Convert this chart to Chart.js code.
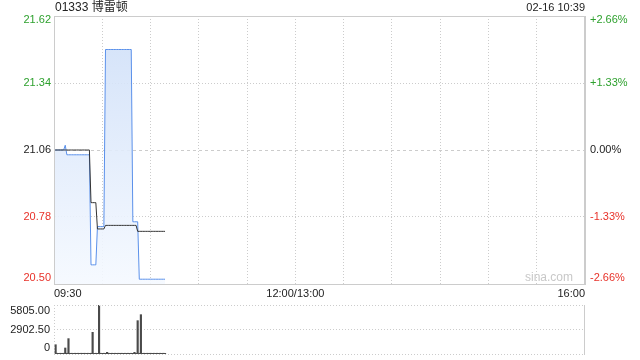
<!DOCTYPE html>
<html>
<head>
<meta charset="utf-8">
<script src="https://cdn.jsdelivr.net/npm/chart.js@4.4.1/dist/chart.umd.min.js"></script>
<style>
  body { margin: 0; background: #fff; }
  #wrap { position: relative; width: 640px; height: 360px; }
  canvas { position: absolute; left: 0; }
</style>
</head>
<body>
<div id="wrap">
  <canvas id="main" width="640" height="300" style="top:0"></canvas>
  <canvas id="vol" width="640" height="60" style="top:300px"></canvas>
</div>
<script>
const stockName = '01333 博雷顿';
const stamp = '02-16 10:39';
const prevClose = 21.06;
const priceTicks = [20.50, 20.78, 21.06, 21.34, 21.62];
const pctTicks = ['-2.66%', '-1.33%', '0.00%', '+1.33%', '+2.66%'];
const timeTicks = { 0: '09:30', 150: '12:00/13:00', 330: '16:00' };
const volTicks = [0, 2902.5, 5805];
const volLabels = ['0', '2902.50', '5805.00'];

// one value per minute from 09:30 to 10:39
const price = [
  21.06, 21.06, 21.06, 21.06, 21.06, 21.06, 21.06, 21.08, 21.04, 21.04,
  21.04, 21.04, 21.04, 21.04, 21.04, 21.04, 21.04, 21.04, 21.04, 21.04,
  21.04, 21.04, 21.04, 20.58, 20.58, 20.58, 20.58, 20.74, 20.74, 20.74,
  20.74, 20.74, 21.48, 21.48, 21.48, 21.48, 21.48, 21.48, 21.48, 21.48,
  21.48, 21.48, 21.48, 21.48, 21.48, 21.48, 21.48, 21.48, 21.48, 20.76,
  20.76, 20.76, 20.76, 20.52, 20.52, 20.52, 20.52, 20.52, 20.52, 20.52,
  20.52, 20.52, 20.52, 20.52, 20.52, 20.52, 20.52, 20.52, 20.52, 20.52
];
const avgPrice = [
  21.06, 21.06, 21.06, 21.06, 21.06, 21.06, 21.06, 21.06, 21.06, 21.06,
  21.06, 21.06, 21.06, 21.06, 21.06, 21.06, 21.06, 21.06, 21.06, 21.06,
  21.06, 21.06, 21.06, 20.84, 20.84, 20.84, 20.84, 20.73, 20.73, 20.73,
  20.73, 20.73, 20.745, 20.745, 20.745, 20.745, 20.745, 20.745, 20.745, 20.745,
  20.745, 20.745, 20.745, 20.745, 20.745, 20.745, 20.745, 20.745, 20.745, 20.745,
  20.745, 20.745, 20.72, 20.72, 20.72, 20.72, 20.72, 20.72, 20.72, 20.72,
  20.72, 20.72, 20.72, 20.72, 20.72, 20.72, 20.72, 20.72, 20.72, 20.72
];
const volume = [
  90, 1100, 90, 80, 90, 80, 90, 710, 90, 1820,
  80, 90, 80, 90, 80, 90, 80, 90, 80, 90,
  80, 90, 80, 90, 2570, 80, 90, 80, 5805, 90,
  80, 90, 80, 200, 90, 80, 90, 80, 90, 80,
  90, 80, 90, 80, 90, 80, 90, 80, 90, 80,
  200, 90, 3950, 90, 4660, 80, 90, 80, 90, 80,
  90, 80, 90, 80, 90, 80, 90, 80, 90, 80
];

const FONT = '"Liberation Sans", Arial, "Noto Sans CJK SC", sans-serif';
const GREEN = '#2ea12e';
const RED = '#e8322a';
const GRID = '#cccccc';
const CLEAR = 'rgba(0,0,0,0)';

function priceColor(v) {
  if (Math.abs(v - prevClose) < 0.001) return '#222';
  return v > prevClose ? GREEN : RED;
}

// sina puts the top label just under the edge and the bottom one just above it
function insetTicks(vals, lowFrac, highFrac) {
  const span = vals[vals.length - 1] - vals[0];
  return vals.map((v, i) => ({
    value: i === 0 ? v + span * lowFrac : i === vals.length - 1 ? v - span * highFrac : v
  }));
}
function noPad(s) { s.paddingTop = 0; s.paddingBottom = 0; }
const edgeGrid = ctx => (ctx.index === 0 || ctx.index === 4 ? CLEAR : GRID);

const mainFrame = {
  id: 'mainFrame',
  afterDraw(chart) {
    const a = chart.chartArea, c = chart.ctx;
    c.save();
    c.strokeStyle = GRID;
    c.lineWidth = 1;
    c.strokeRect(a.left + 0.5, a.top + 0.5, a.right - a.left - 1, a.bottom - a.top);
    c.font = '12px ' + FONT;
    c.fillStyle = '#222';
    c.textBaseline = 'middle';
    c.textAlign = 'left';
    c.fillText(stockName, 55, 8);
    c.font = '11px ' + FONT;
    c.textAlign = 'right';
    c.fillText(stamp, a.right, 8);
    c.fillStyle = '#c8c8c8';
    c.font = '12px ' + FONT;
    c.fillText('sina.com', a.right - 12, a.bottom - 6);
    c.restore();
  }
};

const volFrame = {
  id: 'volFrame',
  afterDraw(chart) {
    const a = chart.chartArea, c = chart.ctx;
    c.save();
    c.strokeStyle = GRID;
    c.lineWidth = 1;
    c.setLineDash([1, 2]);
    c.beginPath();
    c.moveTo(a.left, a.top + 0.5); c.lineTo(a.right, a.top + 0.5);
    c.moveTo(a.left, a.bottom + 0.5); c.lineTo(a.right, a.bottom + 0.5);
    c.moveTo(a.left + 0.5, a.top); c.lineTo(a.left + 0.5, a.bottom);
    c.stroke();
    c.setLineDash([]);
    c.beginPath();
    c.moveTo(a.right - 0.5, a.top); c.lineTo(a.right - 0.5, a.bottom + 1);
    c.stroke();
    c.restore();
  }
};

new Chart(document.getElementById('main'), {
  type: 'line',
  data: {
    datasets: [
      {
        data: avgPrice.map((v, i) => ({ x: i, y: v })),
        borderColor: '#333',
        borderWidth: 1,
        pointRadius: 0,
        fill: false
      },
      {
        data: price.map((v, i) => ({ x: i, y: v })),
        borderColor: '#5a90ea',
        borderWidth: 1,
        pointRadius: 0,
        fill: 'start',
        backgroundColor(ctx) {
          const a = ctx.chart.chartArea;
          if (!a) return 'rgba(210,225,248,0.8)';
          const g = ctx.chart.ctx.createLinearGradient(0, a.top, 0, a.bottom);
          g.addColorStop(0, 'rgba(205,222,248,0.9)');
          g.addColorStop(1, 'rgba(245,249,255,0.9)');
          return g;
        }
      }
    ]
  },
  options: {
    responsive: false,
    animation: false,
    events: [],
    layout: { padding: { top: 16, left: 0, right: 0, bottom: 0 } },
    plugins: { legend: { display: false }, tooltip: { enabled: false } },
    scales: {
      x: {
        type: 'linear', min: 0, max: 330,
        afterBuildTicks(s) { s.ticks = []; for (let m = 0; m <= 330; m += 30) s.ticks.push({ value: m }); },
        afterFit(s) { s.height = 16; },
        grid: { color: ctx => (ctx.index === 0 || ctx.index === 11 ? CLEAR : GRID), drawTicks: false },
        border: { color: GRID, dash: [1, 2] },
        ticks: {
          autoSkip: false, maxRotation: 0, padding: 3, align: 'inner',
          color: '#222', font: { family: FONT, size: 11 },
          callback: v => timeTicks[v] || ''
        }
      },
      y: {
        position: 'left', min: 20.50, max: 21.62,
        afterBuildTicks(s) { s.ticks = insetTicks(priceTicks, 0.022, 0.016); },
        afterFit(s) { s.width = 54; noPad(s); },
        grid: { color: edgeGrid, drawTicks: false },
        border: { color: GRID, dash: ctx => (ctx.index === 2 ? [3, 3] : [1, 2]) },
        ticks: {
          padding: 3, font: { family: FONT, size: 11 },
          color: ctx => priceColor(priceTicks[ctx.index]),
          callback: (v, i) => priceTicks[i].toFixed(2)
        }
      },
      y2: {
        position: 'right', min: 20.50, max: 21.62,
        afterBuildTicks(s) { s.ticks = insetTicks(priceTicks, 0.022, 0.016); },
        afterFit(s) { s.width = 55; noPad(s); },
        grid: { drawOnChartArea: false, drawTicks: false },
        border: { color: GRID },
        ticks: {
          padding: 5, font: { family: FONT, size: 11 },
          color: ctx => priceColor(priceTicks[ctx.index]),
          callback: (v, i) => pctTicks[i]
        }
      }
    }
  },
  plugins: [mainFrame]
});

new Chart(document.getElementById('vol'), {
  type: 'bar',
  data: {
    datasets: [{
      data: volume.map((v, i) => ({ x: i, y: v })),
      backgroundColor: '#4a4a4a',
      barThickness: 1.5
    }]
  },
  options: {
    responsive: false,
    animation: false,
    events: [],
    layout: { padding: { top: 5, right: 55, bottom: 6, left: 0 } },
    plugins: { legend: { display: false }, tooltip: { enabled: false } },
    scales: {
      x: { type: 'linear', min: 0, max: 330, offset: false, display: false },
      y: {
        min: 0, max: 5805,
        afterBuildTicks(s) { s.ticks = insetTicks(volTicks, 0.12, 0.12); },
        afterFit(s) { s.width = 54; noPad(s); },
        grid: { color: ctx => (ctx.index === 1 ? GRID : CLEAR), drawTicks: false },
        border: { display: false, dash: [1, 2] },
        ticks: {
          padding: 4, color: '#222', font: { family: FONT, size: 11 },
          callback: (v, i) => volLabels[i]
        }
      }
    }
  },
  plugins: [volFrame]
});
</script>
</body>
</html>
